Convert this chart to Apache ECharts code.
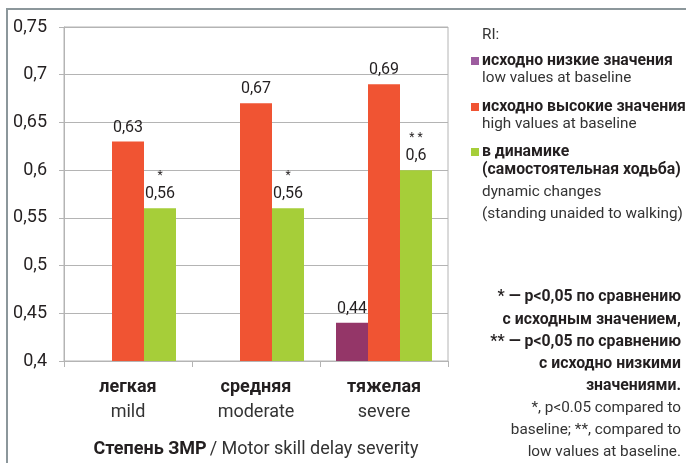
<!DOCTYPE html>
<html>
<head>
<meta charset="utf-8">
<script src="https://cdn.jsdelivr.net/npm/echarts@6/dist/echarts.min.js"></script>
<style>
html,body{margin:0;padding:0;background:#fff;}
#chart{width:686px;height:463px;}
</style>
</head>
<body>
<div id="chart"></div>
<script>
var categoriesRu = ['легкая', 'средняя', 'тяжелая'];
var categoriesEn = ['mild', 'moderate', 'severe'];
var seriesNames = ['исходно низкие значения', 'исходно высокие значения', 'в динамике'];
var lowValues = [null, null, 0.44];
var highValues = [0.63, 0.67, 0.69];
var dynValues = [0.56, 0.56, 0.6];
var dynMarks = ['*', '*', '* *'];
var yTicks = [0.4, 0.45, 0.5, 0.55, 0.6, 0.65, 0.7, 0.75];

var FONT = 'Roboto,"Liberation Sans",sans-serif';
var colors = ['#943668', '#f05433', '#a6ce39'];
var gridColor = '#b4b4b4';
var SIDE_B = 15.8;
var SIDE_R = 15.3;

function fmt(v) { return String(+(+v).toFixed(2)).replace('.', ','); }

var chart = echarts.init(document.getElementById('chart'));

function legendCfg(i, top) {
  return {
    left: 466, top: top, orient: 'vertical',
    itemWidth: 8, itemHeight: 8, icon: 'rect', itemGap: 0,
    selectedMode: false,
    data: [{ name: seriesNames[i], itemStyle: { color: i === 0 ? '#9d5c9f' : colors[i] } }],
    textStyle: { fontFamily: FONT, fontSize: SIDE_B, fontWeight: 'bold', color: '#231f20', lineHeight: 18, padding: [0,0,0,-2] }
  };
}

function txt(x, y, s, bold, align) {
  return {
    type: 'text', x: x, y: y,
    style: {
      text: s, fontFamily: FONT, fontSize: bold ? SIDE_B : SIDE_R, fontWeight: bold ? 'bold' : 'normal',
      fill: bold ? '#231f20' : '#333', textAlign: align || 'left', textVerticalAlign: 'middle'
    }
  };
}

var option = {
  animation: false,
  textStyle: { fontFamily: FONT },
  grid: { left: 64, right: 238, top: 27, bottom: 101, show: true, borderColor: gridColor, borderWidth: 1 },
  legend: [legendCfg(0, 47), legendCfg(1, 93), legendCfg(2, 138)],
  xAxis: {
    type: 'category',
    data: categoriesRu,
    axisLine: { lineStyle: { color: gridColor } },
    axisTick: { show: true, length: 6, lineStyle: { color: gridColor } },
    axisLabel: {
      margin: 14,
      formatter: function (v, i) { return '{b|' + v + '}\n{n|' + categoriesEn[i] + '}'; },
      rich: {
        b: { fontFamily: FONT, fontSize: 18, fontWeight: 'bold', color: '#231f20', lineHeight: 25 },
        n: { fontFamily: FONT, fontSize: 18, color: '#333', lineHeight: 25 }
      }
    },
    name: '{b|Степень ЗМР} {n|/ Motor skill delay severity}',
    nameLocation: 'middle',
    nameGap: 79,
    nameTextStyle: {
      rich: {
        b: { fontFamily: FONT, fontSize: 18, fontWeight: 'bold', color: '#231f20' },
        n: { fontFamily: FONT, fontSize: 18, color: '#333' }
      }
    }
  },
  yAxis: {
    type: 'value',
    min: yTicks[0], max: yTicks[yTicks.length - 1], interval: 0.05,
    axisLine: { show: true, lineStyle: { color: gridColor } },
    axisTick: { show: true, length: 5, lineStyle: { color: gridColor } },
    splitLine: { lineStyle: { color: gridColor } },
    axisLabel: { margin: 17, fontFamily: FONT, fontSize: 18, color: '#231f20', formatter: fmt }
  },
  series: [
    {
      name: seriesNames[0], type: 'bar', data: lowValues, barGap: 0, barCategoryGap: '25%',
      itemStyle: { color: colors[0] },
      label: { show: true, position: 'top', distance: 6, fontFamily: FONT, fontSize: 16, color: '#231f20', formatter: function (p) { return fmt(p.value); } }
    },
    {
      name: seriesNames[1], type: 'bar', data: highValues, barGap: 0, barCategoryGap: '25%',
      itemStyle: { color: colors[1] },
      label: { show: true, position: 'top', distance: 6, fontFamily: FONT, fontSize: 16, color: '#231f20', formatter: function (p) { return fmt(p.value); } }
    },
    {
      name: seriesNames[2], type: 'bar', data: dynValues, barGap: 0, barCategoryGap: '25%',
      itemStyle: { color: colors[2] },
      label: {
        show: true, position: 'top', distance: 4,
        formatter: function (p) { return '{s|' + dynMarks[p.dataIndex] + '}\n{v|' + fmt(p.value) + '}'; },
        rich: {
          s: { fontFamily: FONT, fontSize: 12, color: '#231f20', lineHeight: 16 },
          v: { fontFamily: FONT, fontSize: 16, color: '#231f20', lineHeight: 20 }
        }
      }
    }
  ],
  graphic: [
    { type: 'rect', shape: { x: 7, y: 9, width: 720, height: 520 }, style: { fill: 'none', stroke: '#8c979b', lineWidth: 2 }, silent: true },
    txt(482, 35, 'RI:', false),
    txt(482, 78, 'low values at baseline', false),
    txt(482, 124, 'high values at baseline', false),
    txt(482, 170, '(самостоятельная ходьба)', true),
    txt(482, 192, 'dynamic changes', false),
    txt(482, 214, '(standing unaided to walking)', false),
    txt(681, 297, '* — p<0,05 по сравнению', true, 'right'),
    txt(681, 320, 'с исходным значением,', true, 'right'),
    txt(681, 342, '** — p<0,05 по сравнению', true, 'right'),
    txt(681, 364, 'с исходно низкими', true, 'right'),
    txt(681, 386, 'значениями.', true, 'right'),
    txt(681, 408, '*, p<0.05 compared to', false, 'right'),
    txt(681, 430, 'baseline; **, compared to', false, 'right'),
    txt(681, 452, 'low values at baseline.', false, 'right')
  ]
};
chart.setOption(option);
</script>
</body>
</html>
